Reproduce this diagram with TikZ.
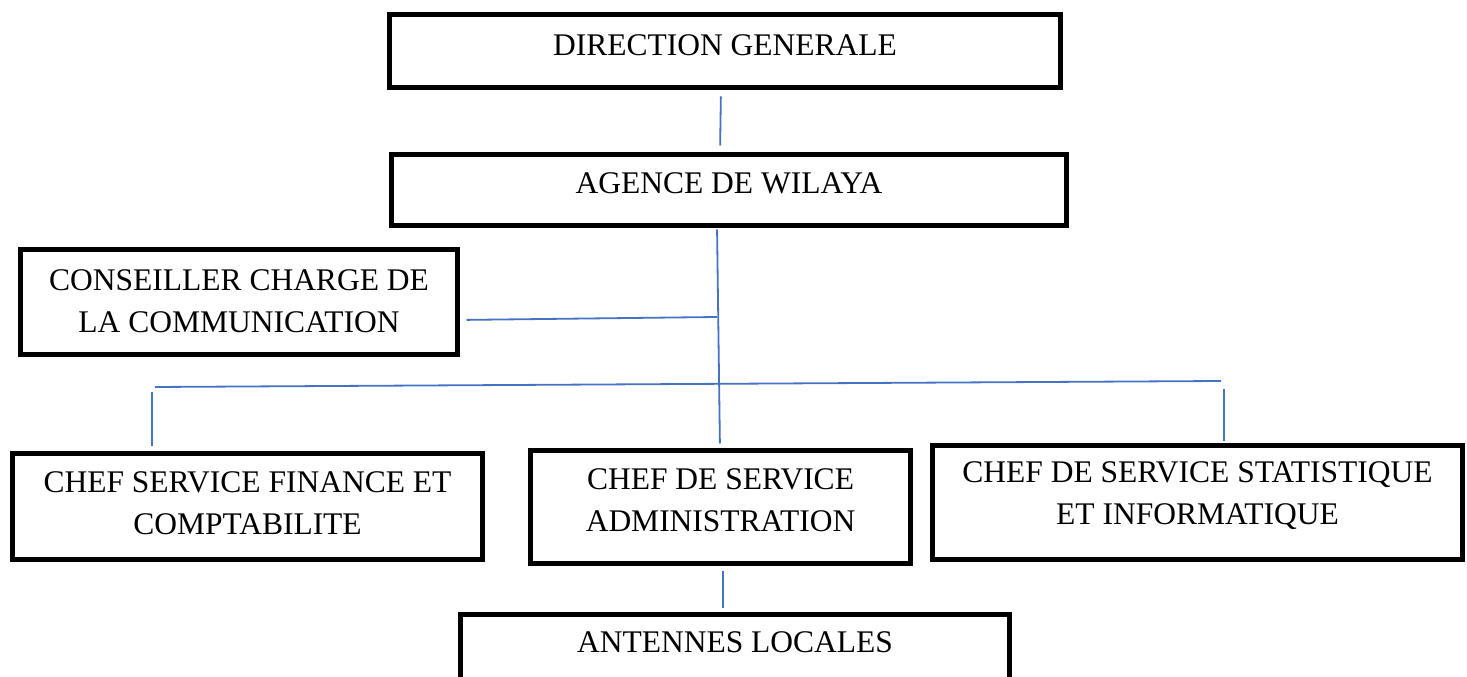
\documentclass[tikz,border=0pt]{standalone}
\usepackage{fontspec}
\setmainfont{Liberation Serif}
\definecolor{connblue}{HTML}{4472C4}
\begin{document}
\begin{tikzpicture}[x=1pt,y=1pt,
  orgbox/.style={draw=black, line width=5pt, rectangle, inner sep=0pt, outer sep=0pt},
  orgtext/.style={align=center, inner sep=0pt, font=\fontsize{31.5}{42}\selectfont},
  conn/.style={draw=connblue, line width=1.8pt}]
\useasboundingbox (0,0) rectangle (1467,677);
% boxes
\node[orgbox, minimum width=671, minimum height=73] (dg) at (725,626) {};
\node[orgbox, minimum width=675, minimum height=71] (aw) at (729,487) {};
\node[orgbox, minimum width=437, minimum height=105] (cc) at (239,375) {};
\node[orgbox, minimum width=470, minimum height=106] (fin) at (247.5,170.5) {};
\node[orgbox, minimum width=380, minimum height=113] (adm) at (720.5,170) {};
\node[orgbox, minimum width=530, minimum height=114] (sta) at (1197.5,174.5) {};
\node[orgbox, minimum width=549, minimum height=73] (ant) at (735,26) {};
% texts
\node[orgtext] (dgt) at (725,632) {DIRECTION GENERALE};
\node[orgtext] (awt) at (729,494) {AGENCE DE WILAYA};
\node[orgtext] (cct) at (239,376) {CONSEILLER CHARGE DE\\LA COMMUNICATION};
\node[orgtext] (fint) at (247.5,174) {CHEF SERVICE FINANCE ET\\COMPTABILITE};
\node[orgtext] (admt) at (720.5,177) {CHEF DE SERVICE\\ADMINISTRATION};
\node[orgtext] (stat) at (1197.5,181) {CHEF DE SERVICE STATISTIQUE\\ET INFORMATIQUE};
\node[orgtext] (antt) at (735,34.5) {ANTENNES LOCALES};
% junction coordinates
\coordinate (j1) at (717,360);
\coordinate (hl) at (155,290);
\coordinate (hr) at (1221,296);
\coordinate (lv) at (152,285);
\coordinate (rv) at (1224,288);
% connectors
\draw[conn, shorten <=9pt, shorten >=9pt] ([xshift=-4pt]dg.south) -- ([xshift=-9pt]aw.north);
\draw[conn, shorten <=4pt, shorten >=7pt] ([xshift=-12pt]aw.south) -- ([xshift=-0.5pt]adm.north);
\draw[conn, shorten <=9pt] ([yshift=-18pt]cc.east) -- (j1);
\draw[conn] (hl) -- (hr);
\draw[conn, shorten >=7pt] (lv) -- (lv |- fin.north);
\draw[conn, shorten >=4pt] (rv) -- (rv |- sta.north);
\draw[conn, shorten <=8pt, shorten >=6pt] ([xshift=2.5pt]adm.south) -- ([xshift=-12pt]ant.north);
\end{tikzpicture}
\end{document}
